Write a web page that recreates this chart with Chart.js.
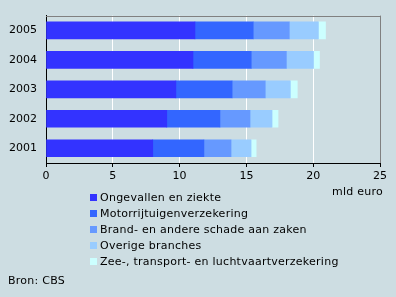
<!DOCTYPE html>
<html lang="nl">
<head>
<meta charset="UTF-8">
<title>Premie-inkomen schadeverzekeraars</title>
<script src="https://cdn.jsdelivr.net/npm/chart.js"></script>
<style>
	body { margin: 0; background: #cddde2; font-family: "DejaVu Sans", Verdana, sans-serif; font-size: 11px; color: #000; }
	.wrap { position: relative; width: 396px; height: 297px; }
	canvas { position: absolute; left: 0; top: 0; }
	.legenda { position: absolute; left: 90px; top: 190px; letter-spacing: 0.25px; }
	.item { height: 16px; line-height: 16px; white-space: nowrap; }
	.item span { display: inline-block; width: 7px; height: 7px; margin-right: 3px; vertical-align: 0px; }
	.eenheid { position: absolute; right: 13px; top: 185px; letter-spacing: 0.25px; }
	.bron { position: absolute; left: 8px; top: 274px; letter-spacing: 0.25px; }
</style>
</head>
<body>
<div class="wrap">
	<canvas id="grafiek" width="396" height="297"></canvas>
	<div class="eenheid">mld euro</div>
	<div class="legenda" id="legenda"></div>
	<div class="bron">Bron: CBS</div>
</div>
<script>
	// jaren van boven naar beneden
	var jaren = ['2005', '2004', '2003', '2002', '2001'];

	var reeksen = ['Ongevallen en ziekte', 'Motorrijtuigenverzekering', 'Brand- en andere schade aan zaken', 'Overige branches', 'Zee-, transport- en luchtvaartverzekering'];
	var kleuren = ['#3333ff', '#3366ff', '#6699ff', '#99ccff', '#ccffff'];

	// mld euro
	var ongevallen = [11.15, 11.0, 9.72, 9.04, 7.99];
	var motorrijtuigen = [4.36, 4.36, 4.21, 3.98, 3.83];
	var brand = [2.70, 2.63, 2.48, 2.25, 2.03];
	var overige = [2.18, 2.03, 1.88, 1.65, 1.50];
	var zee = [0.53, 0.45, 0.52, 0.45, 0.38];

	var xTicks = [0, 5, 10, 15, 20, 25];

	var waarden = [ongevallen, motorrijtuigen, brand, overige, zee];

	var datasets = reeksen.map(function (naam, i) {
		return {
			label: naam,
			data: waarden[i],
			backgroundColor: kleuren[i],
			borderWidth: 0,
			barThickness: 17
		};
	});

	var legenda = document.getElementById('legenda');
	reeksen.forEach(function (naam, i) {
		var div = document.createElement('div');
		div.className = 'item';
		div.innerHTML = '<span style="background:' + kleuren[i] + '"></span>' + naam;
		legenda.appendChild(div);
	});

	var kader = {
		id: 'kader',
		beforeDatasetsDraw: function (chart) {
			var a = chart.chartArea;
			var ctx = chart.ctx;
			ctx.save();
			ctx.strokeStyle = '#808080';
			ctx.lineWidth = 1;
			ctx.beginPath();
			ctx.moveTo(Math.round(a.left), Math.round(a.top) + 0.5);
			ctx.lineTo(Math.round(a.right) + 0.5, Math.round(a.top) + 0.5);
			ctx.lineTo(Math.round(a.right) + 0.5, Math.round(a.bottom));
			ctx.stroke();
			ctx.restore();
		}
	};

	Chart.defaults.font.family = '"DejaVu Sans", Verdana, sans-serif';
	Chart.defaults.font.size = 11;
	Chart.defaults.color = '#000';

	new Chart(document.getElementById('grafiek'), {
		type: 'bar',
		data: { labels: jaren, datasets: datasets },
		plugins: [kader],
		options: {
			indexAxis: 'y',
			responsive: false,
			animation: false,
			layout: { padding: { top: 13, right: 16, bottom: 104, left: 0 } },
			plugins: { legend: { display: false }, tooltip: { enabled: false } },
			scales: {
				x: {
					stacked: true,
					min: 0,
					max: 25,
					afterBuildTicks: function (axis) {
						axis.ticks = xTicks.map(function (v) { return { value: v }; });
					},
					afterFit: function (axis) { axis.height = 30; },
					grid: {
						color: function (c) {
							if (c.tick && c.tick.value === 0) return 'rgba(0,0,0,0)';
							if (c.tick && c.tick.value === 25) return '#808080';
							return '#ffffff';
						},
						tickColor: '#000',
						tickLength: 4
					},
					border: { color: '#000' },
					ticks: { padding: 3, maxRotation: 0 }
				},
				y: {
					stacked: true,
					afterFit: function (axis) { axis.width = 46; },
					grid: { display: false, drawTicks: false },
					border: { color: '#000' },
					ticks: { padding: 9 }
				}
			}
		}
	});
</script>
</body>
</html>
